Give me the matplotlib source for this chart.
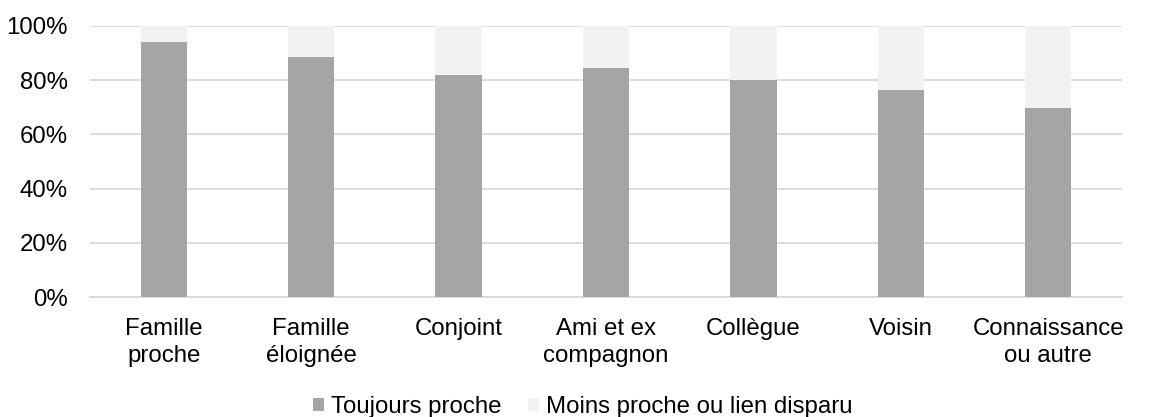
import matplotlib.pyplot as plt
import numpy as np

plt.rcParams['font.family'] = ['Liberation Sans', 'DejaVu Sans']

categories = ['Famille\nproche', 'Famille\néloignée', 'Conjoint', 'Ami et ex\ncompagnon',
              'Collègue', 'Voisin', 'Connaissance\nou autre']
toujours = [94.2, 88.4, 82.0, 84.6, 80.0, 76.4, 69.9]
moins = [100 - v for v in toujours]
series_names = ['Toujours proche', 'Moins proche ou lien disparu']
yticks = [0, 20, 40, 60, 80, 100]

fig = plt.figure(figsize=(11.66, 4.17), dpi=100)
ax = fig.add_axes([90/1166, 1 - 297/417, (1122-90)/1166, (297-26)/417])

x = np.arange(len(categories))
w = 0.314
ax.bar(x, toujours, w, color='#A5A5A5', label=series_names[0], zorder=3)
ax.bar(x, moins, w, bottom=toujours, color='#F2F2F2', label=series_names[1], zorder=3)

ax.set_xlim(-0.5, len(categories) - 0.5)
ax.set_ylim(0, 100)
ax.set_yticks(yticks)
ax.set_yticklabels(['%d%%' % v for v in yticks])
ax.set_xticks(x)
ax.set_xticklabels(categories, linespacing=1.3)
ax.yaxis.grid(True, color='#D9D9D9', linewidth=1.3, zorder=0)
for s in ['top', 'right', 'left']:
    ax.spines[s].set_visible(False)
ax.spines['bottom'].set_color('#D9D9D9')
ax.spines['bottom'].set_linewidth(1.3)
ax.tick_params(axis='both', length=0, labelsize=17.3, colors='#000000')
ax.tick_params(axis='y', pad=16)
ax.tick_params(axis='x', pad=15)

leg = fig.legend(loc='center', bbox_to_anchor=(0.5, 1 - 407/417), ncol=2, frameon=False,
                 fontsize=17.3, handlelength=0.45, handleheight=0.45, handletextpad=0.3,
                 columnspacing=1.1)

fig.savefig('out.png', dpi=100)
